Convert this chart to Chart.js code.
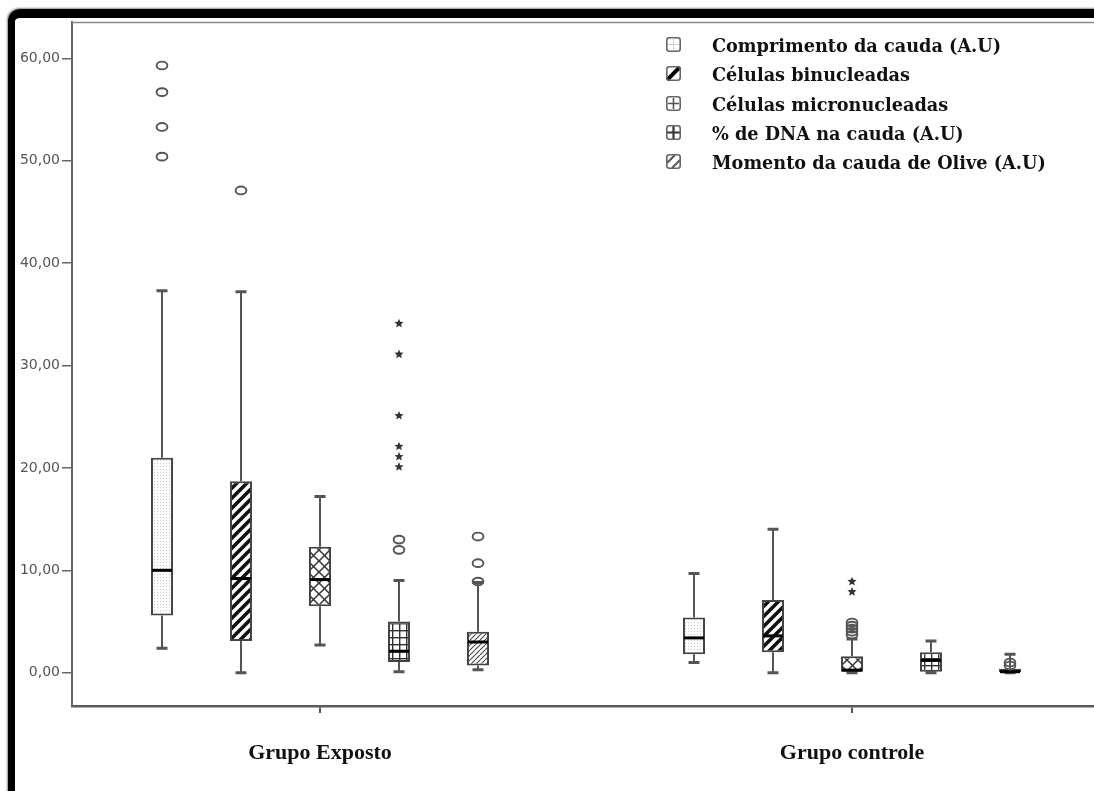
<!DOCTYPE html>
<html>
<head>
<meta charset="utf-8">
<script src="https://cdn.jsdelivr.net/npm/chart.js@4.4.1/dist/chart.umd.min.js"></script>
<style>
html,body{margin:0;padding:0;background:#fff;overflow:hidden;}
#wrap{position:relative;width:1094px;height:791px;overflow:hidden;background:#fff;}
#chart{position:absolute;left:0;top:0;}
#frame{position:absolute;left:8px;top:9px;width:1200px;height:900px;border-top:9px solid #000;border-left:7px solid #000;border-top-left-radius:12px;box-shadow:-1px -1px 2px rgba(0,0,0,0.45);pointer-events:none;}
#legend{position:absolute;left:666px;top:35px;font-family:"DejaVu Serif",serif;font-weight:bold;font-size:17.7px;color:#111;}
.row{position:relative;height:29.3px;white-space:nowrap;}
.row canvas{position:absolute;left:0;top:2px;}
.row span{position:absolute;left:46px;top:0;}
</style>
</head>
<body>
<div id="wrap">
  <canvas id="chart" width="1094" height="791"></canvas>
  <div id="frame"></div>
  <div id="legend"></div>
</div>
<script>
// ---------- data ----------
const groups = ['Grupo Exposto', 'Grupo controle'];
const seriesNames = ['Comprimento da cauda (A.U)', 'Células binucleadas', 'Células micronucleadas', '% de DNA na cauda (A.U)', 'Momento da cauda de Olive (A.U)'];
const yTicks = [0, 10, 20, 30, 40, 50, 60];
// each row: one series, values for [Grupo Exposto, Grupo controle]
const whiskerLow  = [[2.4, 1.0], [0.0, 0.0], [2.7, 0.0], [0.1, 0.0], [0.3, 0.0]];
const quart1      = [[5.6, 1.8], [3.1, 2.0], [6.5, 0.1], [1.05, 0.1], [0.7, 0.0]];
const medians     = [[10.0, 3.4], [9.2, 3.6], [9.1, 0.25], [2.1, 1.2], [3.0, 0.1]];
const quart3      = [[21.0, 5.4], [18.7, 7.1], [12.3, 1.6], [5.0, 2.0], [4.0, 0.4]];
const whiskerHigh = [[37.3, 9.7], [37.2, 14.0], [17.2, 3.3], [9.0, 3.1], [8.8, 1.8]];
const outCircles  = [[[50.4, 53.3, 56.7, 59.3], []], [[47.1], []], [[], [3.7, 4.0, 4.3, 4.6, 4.9]], [[12.0, 13.0], []], [[8.9, 10.7, 13.3], [0.7, 1.0]]];
const outStars    = [[[], []], [[], []], [[], [7.9, 8.9]], [[20.1, 21.1, 22.1, 25.1, 31.1, 34.1], []], [[], []]];

// ---------- patterns ----------
function makeTile(w, h, draw) {
  const c = document.createElement('canvas');
  c.width = w; c.height = h;
  const g = c.getContext('2d');
  g.fillStyle = '#fff'; g.fillRect(0, 0, w, h);
  draw(g, w, h);
  return c;
}
const ctxMain = document.getElementById('chart').getContext('2d');
const tiles = [
  makeTile(3, 3, (g) => { g.fillStyle = '#c4c4c4'; g.fillRect(1, 1, 1, 1); }),
  makeTile(10, 10, (g, w, h) => {
    g.strokeStyle = '#111'; g.lineWidth = 3.6; g.lineCap = 'square';
    for (let k = -1; k <= 1; k++) { g.beginPath(); g.moveTo(k * w, h); g.lineTo(k * w + w, 0); g.stroke(); }
  }),
  makeTile(11, 11, (g, w, h) => {
    g.strokeStyle = '#333'; g.lineWidth = 1.5;
    for (let k = -1; k <= 1; k++) {
      g.beginPath(); g.moveTo(k * w, h); g.lineTo(k * w + w, 0); g.stroke();
      g.beginPath(); g.moveTo(k * w, 0); g.lineTo(k * w + w, h); g.stroke();
    }
  }),
  makeTile(7, 7, (g) => { g.fillStyle = '#333'; g.fillRect(0, 0, 7, 1.4); g.fillRect(0, 0, 1.4, 7); }),
  makeTile(5, 5, (g, w, h) => {
    g.strokeStyle = '#444'; g.lineWidth = 1.1;
    for (let k = -1; k <= 1; k++) { g.beginPath(); g.moveTo(k * w, h); g.lineTo(k * w + w, 0); g.stroke(); }
  })
];
const patterns = tiles.map(t => ctxMain.createPattern(t, 'repeat'));

// ---------- legend (HTML text) ----------
const legendIcons = [
  (g) => { g.strokeStyle = '#ccc'; g.lineWidth = 1; g.beginPath(); g.moveTo(7.5, 2); g.lineTo(7.5, 13); g.moveTo(2, 7.5); g.lineTo(13, 7.5); g.stroke(); },
  (g) => { g.strokeStyle = '#000'; g.lineWidth = 4; g.beginPath(); g.moveTo(1, 14); g.lineTo(14, 1); g.stroke(); },
  (g) => { g.strokeStyle = '#555'; g.lineWidth = 1.6; g.beginPath(); g.moveTo(7.5, 2); g.lineTo(7.5, 13); g.moveTo(2, 7.5); g.lineTo(13, 7.5); g.stroke(); },
  (g) => { g.strokeStyle = '#333'; g.lineWidth = 2.2; g.beginPath(); g.moveTo(7.5, 1); g.lineTo(7.5, 14); g.moveTo(1, 7.5); g.lineTo(14, 7.5); g.stroke(); },
  (g) => { g.strokeStyle = '#555'; g.lineWidth = 2; g.beginPath(); g.moveTo(1, 9); g.lineTo(9, 1); g.moveTo(6, 14); g.lineTo(14, 6); g.stroke(); }
];
const legendEl = document.getElementById('legend');
seriesNames.forEach((name, i) => {
  const row = document.createElement('div'); row.className = 'row';
  const ic = document.createElement('canvas'); ic.width = 15; ic.height = 15;
  const g = ic.getContext('2d');
  g.fillStyle = '#fff'; g.fillRect(0, 0, 15, 15);
  legendIcons[i](g);
  g.strokeStyle = '#666'; g.lineWidth = 1.6;
  g.beginPath(); g.roundRect(0.8, 0.8, 13.4, 13.4, 2.5); g.stroke();
  const sp = document.createElement('span'); sp.textContent = name;
  row.appendChild(ic); row.appendChild(sp);
  legendEl.appendChild(row);
});

// ---------- box plot parts drawn through the scales ----------
function drawStar(ctx, x, y, r) {
  ctx.beginPath();
  for (let k = 0; k < 10; k++) {
    const rad = k % 2 === 0 ? r : r * 0.45;
    const a = -Math.PI / 2 + k * Math.PI / 5;
    const px = x + rad * Math.cos(a), py = y + rad * Math.sin(a);
    if (k === 0) ctx.moveTo(px, py); else ctx.lineTo(px, py);
  }
  ctx.closePath(); ctx.fill();
}
const boxParts = {
  id: 'boxParts',
  beforeDatasetsDraw(chart) {
    const ctx = chart.ctx, ys = chart.scales.y;
    ctx.save();
    ctx.strokeStyle = '#555';
    chart.data.datasets.forEach((ds, i) => {
      chart.getDatasetMeta(i).data.forEach((el, j) => {
        const x = el.x;
        const yHi = ys.getPixelForValue(whiskerHigh[i][j]);
        const yQ3 = ys.getPixelForValue(quart3[i][j]);
        const yLo = ys.getPixelForValue(whiskerLow[i][j]);
        const yQ1 = ys.getPixelForValue(quart1[i][j]);
        ctx.lineWidth = 2;
        ctx.beginPath(); ctx.moveTo(x, yQ3); ctx.lineTo(x, yHi); ctx.moveTo(x, yQ1); ctx.lineTo(x, yLo); ctx.stroke();
        ctx.lineWidth = 3;
        ctx.beginPath(); ctx.moveTo(x - 5.5, yHi); ctx.lineTo(x + 5.5, yHi); ctx.moveTo(x - 5.5, yLo); ctx.lineTo(x + 5.5, yLo); ctx.stroke();
      });
    });
    ctx.restore();
  },
  afterDatasetsDraw(chart) {
    const ctx = chart.ctx, ys = chart.scales.y;
    ctx.save();
    chart.data.datasets.forEach((ds, i) => {
      chart.getDatasetMeta(i).data.forEach((el, j) => {
        const x = el.x, hw = el.width / 2;
        const yM = ys.getPixelForValue(medians[i][j]);
        ctx.strokeStyle = '#000'; ctx.lineWidth = 3;
        ctx.beginPath(); ctx.moveTo(x - hw + 1, yM); ctx.lineTo(x + hw - 1, yM); ctx.stroke();
        ctx.strokeStyle = '#555'; ctx.lineWidth = 1.9;
        outCircles[i][j].forEach(v => {
          const yy = ys.getPixelForValue(v);
          ctx.beginPath(); ctx.ellipse(x, yy, 5.4, 3.9, 0, 0, Math.PI * 2); ctx.stroke();
        });
        ctx.fillStyle = '#333';
        outStars[i][j].forEach(v => drawStar(ctx, x, ys.getPixelForValue(v), 4.8));
      });
    });
    // plot frame (top edge)
    const a = chart.chartArea;
    ctx.strokeStyle = '#888'; ctx.lineWidth = 1.5;
    ctx.beginPath(); ctx.moveTo(a.left, a.top + 0.5); ctx.lineTo(a.right, a.top + 0.5); ctx.stroke();
    ctx.restore();
  }
};

// ---------- chart ----------
const groupCenter0 = 320, groupGap = 532; // used only to set the axis range
const xMin = (72 - groupCenter0) / groupGap;
const xMax = (1094 - groupCenter0) / groupGap;

const datasets = seriesNames.map((name, i) => ({
  label: name,
  data: groups.map((g, j) => ({ x: j, y: [quart1[i][j], quart3[i][j]] })),
  backgroundColor: patterns[i],
  borderColor: '#444',
  borderWidth: 2,
  borderSkipped: false,
  categoryPercentage: 0.7425,
  barPercentage: 0.279
}));

new Chart(document.getElementById('chart'), {
  type: 'bar',
  data: { datasets },
  plugins: [boxParts],
  options: {
    responsive: false,
    animation: false,
    devicePixelRatio: 1,
    layout: { padding: { top: 22, left: 0, right: 0, bottom: 0 } },
    plugins: { legend: { display: false }, tooltip: { enabled: false } },
    scales: {
      x: {
        type: 'linear',
        min: xMin, max: xMax,
        offset: false,
        afterBuildTicks: (s) => { s.ticks = groups.map((g, j) => ({ value: j })); },
        afterFit: (s) => { s.height = 85; },
        grid: { offset: false, drawOnChartArea: false, tickLength: 7, tickColor: '#555', lineWidth: 2 },
        border: { color: '#5a5a5a', width: 2.5 },
        ticks: {
          callback: (v) => groups[Math.round(v)],
          font: { family: 'Liberation Serif', weight: 'bold', size: 22 },
          color: '#111',
          padding: 27,
          maxRotation: 0,
          autoSkip: false
        }
      },
      y: {
        min: -3.25, max: 63.55,
        afterBuildTicks: (s) => { s.ticks = yTicks.map(v => ({ value: v })); },
        afterFit: (s) => { s.width = 72; },
        grid: { drawOnChartArea: false, tickLength: 10, tickColor: '#666', lineWidth: 1.5 },
        border: { color: '#666', width: 2 },
        ticks: {
          callback: (v) => v.toFixed(2).replace('.', ','),
          font: { family: 'DejaVu Sans', size: 14 },
          color: '#555',
          padding: 2
        }
      }
    }
  }
});
</script>
</body>
</html>
